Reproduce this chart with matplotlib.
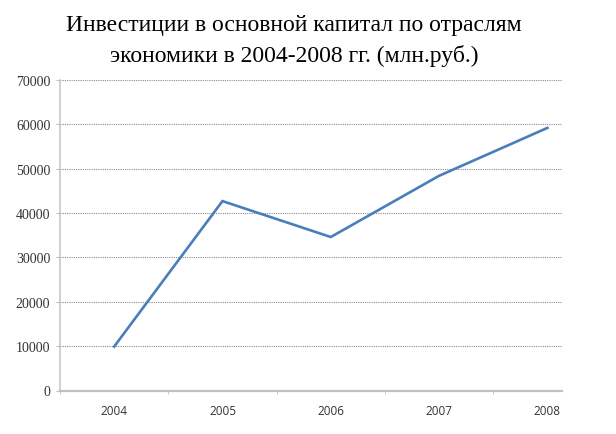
import matplotlib
matplotlib.use("Agg")
import matplotlib.pyplot as plt

years = ["2004", "2005", "2006", "2007", "2008"]
values = [9900, 42700, 34600, 48400, 59200]
yticks = [0, 10000, 20000, 30000, 40000, 50000, 60000, 70000]
title = "Инвестиции в основной капитал по отраслям\nэкономики в 2004-2008 гг. (млн.руб.)"

fig = plt.figure(figsize=(6.16, 4.35), dpi=100)
ax = fig.add_axes([60/616, 1 - 391.5/435, (562-60)/616, (391.5-81)/435])

x = list(range(len(years)))
ax.plot(x, values, color="#4A7EBB", linewidth=1.9, solid_joinstyle="miter", zorder=3)

ax.set_ylim(0, 70000)
ax.set_xlim(-0.5, 4.135)
ax.set_yticks(yticks)
ax.set_yticklabels([str(v) for v in yticks], fontfamily="Liberation Serif", fontsize=10,
                   color="#333333")
ax.set_xticks(x)
ax.set_xticklabels(years, fontfamily="Open Sans", fontsize=8.5, color="#333333")
ax.set_xticks([i - 0.5 for i in range(len(years))], minor=True)

ax.yaxis.grid(True, color="#8c8c8c", linestyle=(0, (1, 1)), linewidth=0.8)
ax.xaxis.grid(False)
ax.set_axisbelow(True)

for s in ["top", "right"]:
    ax.spines[s].set_visible(False)
ax.spines["bottom"].set_color("#c0c0c0")
ax.spines["bottom"].set_linewidth(1.6)
ax.spines["left"].set_color("#c8c8c8")
ax.spines["left"].set_linewidth(1.2)
ax.spines["left"].set_linestyle((0, (2, 1)))

ax.tick_params(axis="y", which="major", length=3, color="#c0c0c0", pad=4)
ax.tick_params(axis="x", which="major", length=0, pad=10)
ax.tick_params(axis="x", which="minor", length=2, color="#c0c0c0", direction="out")

fig.text(0.477, 0.906, title, ha="center", va="center", fontfamily="Liberation Serif",
         fontsize=17, linespacing=1.5)

fig.savefig("out.png", dpi=100)
